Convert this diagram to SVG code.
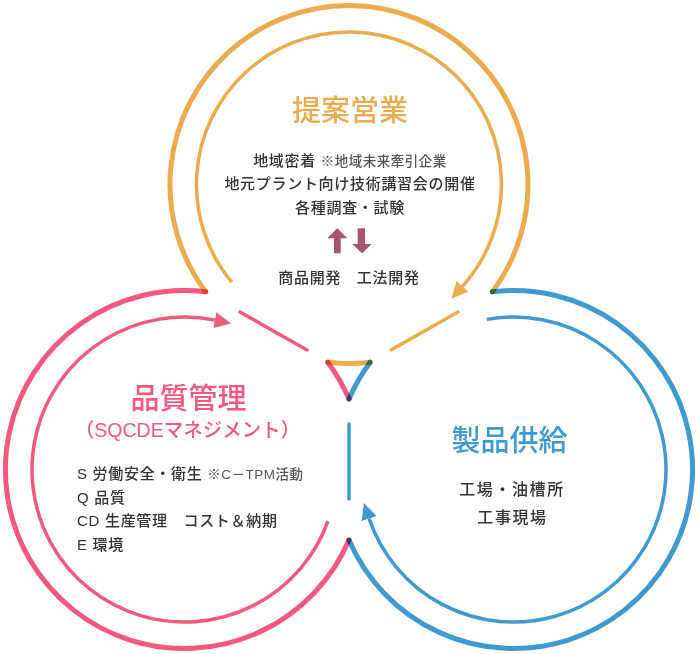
<svg xmlns="http://www.w3.org/2000/svg" width="700" height="654" viewBox="0 0 700 654">
<defs>
<style>
text{font-family:"Liberation Sans","Noto Sans CJK JP",sans-serif;fill:#333;font-weight:500;}
.ttl{font-size:29px;text-anchor:middle;font-family:"Noto Sans CJK JP",sans-serif;}
.body{font-size:15px;letter-spacing:0.7px;}
.mid{text-anchor:middle;}
.note{font-size:13.5px;fill:#555;letter-spacing:0.5px;}
.outer{fill:none;stroke-width:5;stroke-linecap:round;mix-blend-mode:multiply;}
.inner{fill:none;stroke-width:3.5;stroke-linecap:butt;}
.seg{fill:none;stroke-width:3.5;stroke-linecap:round;}
.o{stroke:#EAAC4E;}
.p{stroke:#F2597C;}
.b{stroke:#3E9ACF;}
</style>
<marker id="ah-o" markerUnits="userSpaceOnUse" markerWidth="20" markerHeight="20" refX="0" refY="8" orient="auto" viewBox="0 0 20 16"><path d="M0,0 L16.5,8 L0,16 z" fill="#EAAC4E"/></marker>
<marker id="ah-p" markerUnits="userSpaceOnUse" markerWidth="20" markerHeight="20" refX="0" refY="8" orient="auto" viewBox="0 0 20 16"><path d="M0,0 L16.5,8 L0,16 z" fill="#F2597C"/></marker>
<marker id="ah-b" markerUnits="userSpaceOnUse" markerWidth="20" markerHeight="20" refX="0" refY="8" orient="auto" viewBox="0 0 20 16"><path d="M0,0 L16.5,8 L0,16 z" fill="#3E9ACF"/></marker>
</defs>
<rect width="700" height="654" fill="#fff"/>

<g id="node-teian">
<path class="outer o" d="M205.7,291.8 A179,179 0 1 1 492.3,291.8"/>
<path class="outer o" d="M327.8,362.2 A179,179 0 0 0 370.2,362.2"/>
<text class="ttl" x="350" y="121" style="fill:#EAAC4E">提案営業</text>
<text class="body mid" x="350" y="165.5"><tspan>地域密着 </tspan><tspan class="note">※地域未来牽引企業</tspan></text>
<text class="body mid" x="350" y="188.5">地元プラント向け技術講習会の開催</text>
<text class="body mid" x="350" y="212.5">各種調査・試験</text>
<g fill="#A8546E">
<path d="M327.3,238.3 L337.3,228.3 L347.3,238.3 L340.7,238.3 L340.7,253.3 L334,253.3 L334,238.3 z"/>
<path d="M357.7,228.3 L365,228.3 L365,244 L371.7,244 L362,253.3 L352.3,244 L357.7,244 z"/>
</g>
<text class="body mid" x="349" y="282.7">商品開発　工法開発</text>
</g>

<g id="node-hinshitsu">
<path class="outer p" d="M205.7,291.8 A179,179 0 1 0 349,540"/>
<path class="outer p" d="M327.8,362.2 A179,179 0 0 1 349,399"/>
<text class="ttl" x="188.5" y="409" style="fill:#F2597C">品質管理</text>
<text x="187.5" y="437" style="fill:#F2597C;font-size:19.5px;text-anchor:middle">（SQCDEマネジメント）</text>
<text class="body" x="77" y="478.7"><tspan>S 労働安全・衛生 </tspan><tspan class="note">※C－TPM活動</tspan></text>
<text class="body" x="77" y="502.7">Q 品質</text>
<text class="body" x="77" y="525.7">CD 生産管理　コスト＆納期</text>
<text class="body" x="77" y="549.7">E 環境</text>
</g>

<g id="node-seihin">
<path class="outer b" d="M492.3,291.8 A179,179 0 1 1 349,540"/>
<path class="outer b" d="M370.2,362.2 A179,179 0 0 0 349,399"/>
<text class="ttl" x="509.5" y="451" style="fill:#3E9ACF">製品供給</text>
<text class="mid" x="512" y="494.5" style="font-size:16px;letter-spacing:1.6px">工場・油槽所</text>
<text class="mid" x="512.5" y="522.5" style="font-size:16px;letter-spacing:1.6px">工事現場</text>
</g>

<g id="connectors">
<path class="inner o" d="M231.8,282.1 A152.5,152.5 0 1 1 462.5,286.3" marker-end="url(#ah-o)"/>
<path class="inner p" d="M328,521.2 A152.5,152.5 0 1 1 214.9,320.1" marker-end="url(#ah-p)"/>
<path class="inner b" d="M486.8,319.4 A152.5,152.5 0 1 1 369.1,518.6" marker-end="url(#ah-b)"/>
<line class="seg p" x1="240" y1="312" x2="307" y2="350"/>
<line class="seg o" x1="391" y1="350" x2="458" y2="312"/>
<line class="seg b" x1="349" y1="424" x2="349" y2="499"/>
</g>
</svg>
